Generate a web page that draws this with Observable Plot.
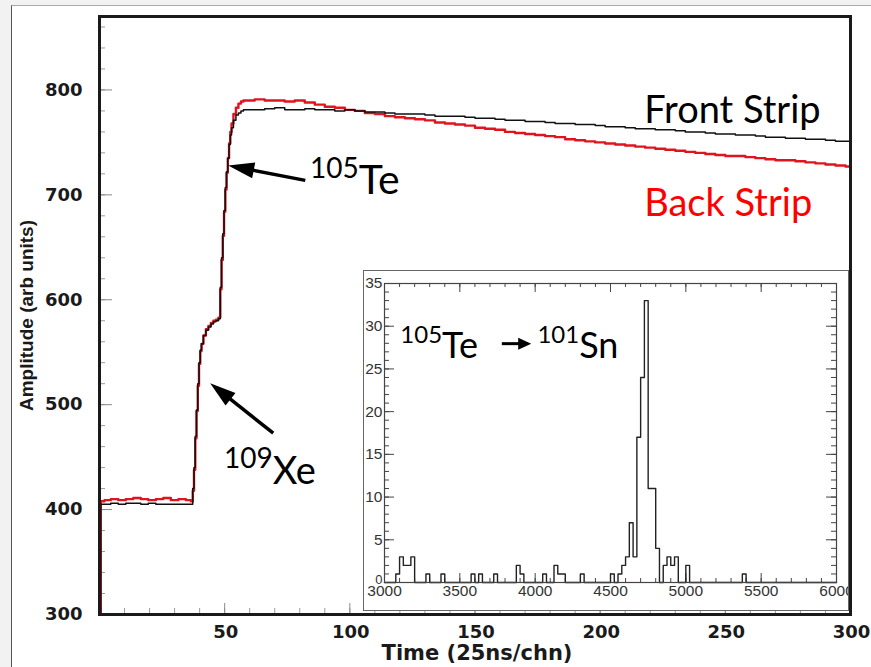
<!DOCTYPE html>
<html>
<head>
<meta charset="utf-8">
<script src="https://cdn.jsdelivr.net/npm/d3@7"></script>
<script src="https://cdn.jsdelivr.net/npm/@observablehq/plot@0.6"></script>
<style>
  html, body { margin: 0; padding: 0; background: #f2f2f2; }
  #wrap { position: relative; width: 871px; height: 667px; overflow: hidden; }
  #paper { position: absolute; left: 11px; top: 5px; width: 900px; height: 700px; background: #fff;
           border-left: 1px solid #555; border-top: 1px solid #aaa; }
  #main { position: absolute; left: 0; top: 0; }
  #inset { position: absolute; left: 363px; top: 270px; width: 484px; height: 339px; background: #fff;
           border: 1px solid #666; overflow: hidden; }
  #inset svg, #main svg { display: block; }
  g[aria-label="tick-labels"] text { letter-spacing: 2px; }
</style>
</head>
<body>
<div id="wrap"><div id="paper"></div><div id="main"></div><div id="inset"></div></div>
<script>
// ---------------- main trace data (channel = 25 ns) ----------------
const chan = [0,1,3,6,9,12,15,18,21,24,27,30,33,36,37,
  37.5,38,38.5,39,39.5,40,40.5,41,42,43,44,45,46,47,48,48.5,49,49.5,50,50.5,51,51.5,52,52.5,53,54,55,56,57,58,
  60,64,68,72,76,80,84,88,92,96,100,104,108,112,116,120,124,128,132,136,140,144,148,152,156,160,164,168,172,176,
  180,184,188,192,196,200,204,208,212,216,220,224,228,232,236,240,244,248,252,256,260,264,268,272,276,280,284,288,292,296,300];

const frontStrip = [300,405,405,406,405,406,406,405,406,405,405,405,405,405,405,
  420,440,470,495,520,540,552,558,566,571,574,577,579,580,582,612,640,663,685,707,722,735,748,757,764,771,776,778,780,781,
  781,781,782,783,781,781,782,781,781,780,781,780,779,779,778,777,777,777,776,775,775,775,774,773,773,772,771,771,770,770,
  769,768,768,767,767,766,765,765,764,763,763,762,762,761,760,760,759,758,758,757,757,756,755,755,754,754,753,753,752,751,751];

const backStrip = [300,408,409,410,409,410,411,410,409,410,411,409,410,409,408,
  418,438,468,494,518,539,551,558,566,572,575,578,580,581,583,610,638,661,684,705,721,735,749,760,768,777,783,787,789,790,
  790,791,790,790,789,790,788,786,784,783,781,780,778,777,775,774,773,772,771,769,768,767,766,764,763,762,760,759,758,757,
  756,755,753,752,751,750,749,748,747,746,745,744,743,742,741,740,739,738,737,737,736,735,734,733,733,732,731,730,729,728,727];

// axis ticks
const yTicks = [300, 400, 500, 600, 700, 800];
const xTicks = [50, 100, 150, 200, 250, 300];
const yMinorTicks = d3.range(300, 871, 20);
const xMinorTicks = d3.range(10, 300, 10);

// annotations (data coordinates)
const stripLabels = ["Front Strip", "Back Strip"];
const stripLabelChan = [217.6, 217.6];
const stripLabelAmp = [780.5, 691];

const isoSymbol = ["Te", "Xe"];
const isoMass = ["105", "109"];
const isoChan = [103.6, 69.2];
const isoAmp = [713.3, 435.7];

const arrowTailChan = [82.4, 69.6];
const arrowTailAmp = [713.3, 472.4];
const arrowTipChan = [51.6, 44.4];
const arrowTipAmp = [727.6, 520];

// ---------------- inset histogram data ----------------
const binWidth = 25;
const binStart = d3.range(3000, 6000, binWidth);
const binCounts = [
  0,0,0,1,3,2,2,3,0,0,      // 3000-3225
  0,1,0,0,0,1,0,0,0,0,      // 3250-3475
  0,0,0,1,0,1,0,0,0,1,      // 3500-3725
  0,0,0,0,0,2,1,0,0,0,      // 3750-3975
  0,0,1,0,0,2,1,1,0,0,      // 4000-4225
  0,0,1,0,0,0,0,0,0,0,      // 4250-4475
  1,0,1,2,3,7,3,17,24,33,   // 4500-4725
  11,11,4,0,2,3,2,3,0,0,    // 4750-4975
  2,0,0,0,0,0,0,0,0,0,      // 5000-5225
  0,0,0,0,0,1,0,0,0,0,      // 5250-5475
  0,0,0,0,0,0,0,0,0,0,      // 5500-5725
  0,0,0,0,0,0,0,0,0,0       // 5750-5975
];
const insetXTicks = [3000, 3500, 4000, 4500, 5000, 5500, 6000];
const insetYTicks = [0, 5, 10, 15, 20, 25, 30, 35];
const insetXMinor = d3.range(3000, 6001, 100);
const insetYMinor = d3.range(0, 36, 1);

const insetSymbol = ["Te", "Sn"];
const insetMass = ["105", "101"];
const insetLabelX = [3382, 4292];
const insetLabelY = [27.66, 27.66];
const insetArrowTail = [3782, 27.9];
const insetArrowTip = [3977, 27.9];

if (chan.length !== frontStrip.length || chan.length !== backStrip.length) throw new Error("length mismatch " + chan.length + " " + frontStrip.length + " " + backStrip.length);
if (binCounts.length !== binStart.length) throw new Error("bins mismatch");

// ---------------- helpers ----------------
function arrowMark(data, {shaft = 3.5, head = 26, half = 8, color = "#000"} = {}) {
  return (index, scales) => {
    const g = d3.create("svg:g");
    for (const d of data) {
      const x1 = scales.x(d.x1), y1 = scales.y(d.y1), x2 = scales.x(d.x2), y2 = scales.y(d.y2);
      const dx = x2 - x1, dy = y2 - y1, L = Math.hypot(dx, dy), ux = dx / L, uy = dy / L;
      const bx = x2 - ux * head, by = y2 - uy * head;
      g.append("line").attr("x1", x1).attr("y1", y1).attr("x2", bx + ux * 3).attr("y2", by + uy * 3)
        .attr("stroke", color).attr("stroke-width", shaft);
      g.append("path")
        .attr("d", `M${x2},${y2}L${bx - uy * half},${by + ux * half}L${bx + uy * half},${by - ux * half}Z`)
        .attr("fill", color);
    }
    return g.node();
  };
}

// ---------------- main chart ----------------
const W = 871, H = 667, mL = 99, mT = 16, mR = 21, mB = 53;
const iw = W - mL - mR, ih = H - mT - mB;
const trace = chan.map((c, i) => ({c, front: frontStrip[i], back: backStrip[i]}));
const strips = stripLabels.map((t, i) => ({t, x: stripLabelChan[i], y: stripLabelAmp[i]}));
const isos = isoSymbol.map((t, i) => ({t, m: isoMass[i], x: isoChan[i], y: isoAmp[i]}));
const arrows = arrowTailChan.map((_, i) => ({x1: arrowTailChan[i], y1: arrowTailAmp[i], x2: arrowTipChan[i], y2: arrowTipAmp[i]}));

const tickFont = {fontFamily: "DejaVu Sans", fontWeight: "bold", fontSize: 18, fill: "#1a1a1a", ariaLabel: "tick-labels"};
const noteFont = {fontFamily: "Lato", fill: "#000"};

const mainPlot = Plot.plot({
  width: W, height: H, marginLeft: mL, marginTop: mT, marginRight: mR, marginBottom: mB,
  style: {background: "transparent", overflow: "visible"},
  x: {domain: [0, 300], axis: null},
  y: {domain: [300, 870], axis: null},
  marks: [
    Plot.tickY(yMinorTicks, {y: d => d, stroke: "#9a9a9a", insetRight: iw - 6}),
    Plot.tickY(yTicks, {y: d => d, stroke: "#8a8a8a", insetRight: iw - 13}),
    Plot.tickX(xMinorTicks, {x: d => d, stroke: "#9a9a9a", insetTop: ih - 6}),
    Plot.tickX(xTicks, {x: d => d, stroke: "#8a8a8a", insetTop: ih - 11}),
    Plot.line(trace, {x: "c", y: "back", stroke: "#e0141e", strokeWidth: 2.4, curve: "step"}),
    Plot.line(trace, {x: "c", y: "front", stroke: "#111", strokeWidth: 1.5, curve: "step"}),
    Plot.frame({stroke: "#1a1a1a", strokeWidth: 3}),
    Plot.text(yTicks, {y: d => d, text: d => String(d), frameAnchor: "left", textAnchor: "end", lineAnchor: "middle", dx: -17, ...tickFont}),
    Plot.text(xTicks, {x: d => d, text: d => String(d), frameAnchor: "bottom", lineAnchor: "top", textAnchor: "middle", dx: 1, dy: 11, ...tickFont}),
    Plot.text(["Time (25ns/chn)"], {text: d => d, frameAnchor: "bottom", lineAnchor: "middle", textAnchor: "middle", dy: 39, dx: 2,
      fontFamily: "DejaVu Sans", fontWeight: "bold", fontSize: 21, fill: "#1a1a1a"}),
    Plot.text(["Amplitude (arb units)"], {text: d => d, frameAnchor: "left", textAnchor: "middle", lineAnchor: "middle", rotate: -90, dx: -73,
      fontFamily: "Liberation Sans", fontWeight: "bold", fontSize: 19, fill: "#1a1a1a"}),
    Plot.text([strips[0]], {x: "x", y: "y", text: "t", textAnchor: "start", lineAnchor: "middle", fontSize: 38, ...noteFont}),
    Plot.text([strips[1]], {x: "x", y: "y", text: "t", textAnchor: "start", lineAnchor: "middle", fontSize: 38, ...noteFont, fill: "#ff0000"}),
    Plot.text([isos[0]], {x: "x", y: "y", text: "t", textAnchor: "start", lineAnchor: "middle", fontSize: 41, ...noteFont}),
    Plot.text([isos[0]], {x: "x", y: "y", text: "m", textAnchor: "end", lineAnchor: "middle", dy: -12, fontSize: 28, ...noteFont}),
    Plot.text([isos[1]], {x: "x", y: "y", text: "t", textAnchor: "start", lineAnchor: "middle", fontSize: 38, ...noteFont}),
    Plot.text([isos[1]], {x: "x", y: "y", text: "m", textAnchor: "end", lineAnchor: "middle", dy: -13.5, fontSize: 28, ...noteFont}),
    arrowMark(arrows, {shaft: 3.5, head: 26, half: 8})
  ]
});
document.getElementById("main").append(mainPlot);

// ---------------- inset ----------------
const IW = 484, IH = 339, imL = 20, imT = 12, imR = 12, imB = 28;
const iiw = IW - imL - imR, iih = IH - imT - imB;
const hist = binStart.map((b, i) => ({b, n: binCounts[i]})).concat([{b: 6000, n: 0}]);
const insetLabels = insetSymbol.map((t, i) => ({t, m: insetMass[i], x: insetLabelX[i], y: insetLabelY[i]}));
const insetArrow = [{x1: insetArrowTail[0], y1: insetArrowTail[1], x2: insetArrowTip[0], y2: insetArrowTip[1]}];
const iFont = {fontFamily: "Liberation Sans", fontSize: 15.5, fill: "#333"};

const insetPlot = Plot.plot({
  width: IW, height: IH, marginLeft: imL, marginTop: imT, marginRight: imR, marginBottom: imB,
  style: {background: "transparent", overflow: "hidden"},
  x: {domain: [3000, 6000], axis: null},
  y: {domain: [0, 35], axis: null},
  marks: [
    Plot.tickX(insetXMinor, {x: d => d, stroke: "#444", insetTop: iih - 4}),
    Plot.tickX(insetXTicks, {x: d => d, stroke: "#444", insetTop: iih - 9}),
    Plot.tickX(insetXMinor, {x: d => d, stroke: "#444", insetBottom: iih - 4}),
    Plot.tickX(insetXTicks, {x: d => d, stroke: "#444", insetBottom: iih - 9}),
    Plot.tickY(insetYMinor, {y: d => d, stroke: "#444", insetRight: iiw - 5}),
    Plot.tickY(insetYTicks, {y: d => d, stroke: "#444", insetRight: iiw - 10}),
    Plot.tickY(insetYMinor, {y: d => d, stroke: "#444", insetLeft: iiw - 5}),
    Plot.tickY(insetYTicks, {y: d => d, stroke: "#444", insetLeft: iiw - 10}),
    Plot.line(hist, {x: "b", y: "n", curve: "step-after", stroke: "#222", strokeWidth: 1.4}),
    Plot.frame({stroke: "#444", strokeWidth: 1.2}),
    Plot.text(insetXTicks, {x: d => d, text: d => String(d), frameAnchor: "bottom", lineAnchor: "top", textAnchor: "middle", dy: 2, ...iFont}),
    Plot.text(insetYTicks.filter(d => d > 0), {y: d => d, text: d => String(d), frameAnchor: "left", textAnchor: "end", lineAnchor: "middle", dx: -2, ...iFont}),
    Plot.text([0], {y: d => d, text: d => String(d), frameAnchor: "left", textAnchor: "end", lineAnchor: "bottom", dx: -2, dy: 1, ...iFont, fontSize: 13}),
    Plot.text(insetLabels, {x: "x", y: "y", text: "t", textAnchor: "start", lineAnchor: "middle", fontSize: 36, fontFamily: "Lato", fill: "#000"}),
    Plot.text(insetLabels, {x: "x", y: "y", text: "m", textAnchor: "end", lineAnchor: "middle", dy: -11.2, fontSize: 24, fontFamily: "Lato", fill: "#000"}),
    arrowMark(insetArrow, {shaft: 3, head: 13, half: 6})
  ]
});
document.getElementById("inset").append(insetPlot);
</script>
</body>
</html>
